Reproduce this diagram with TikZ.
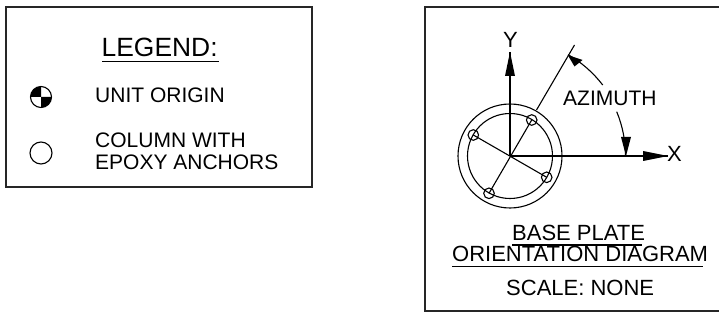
\documentclass[tikz,border=0pt]{standalone}
\usepackage{fontspec}
\setmainfont{Liberation Sans}
\begin{document}
\begin{tikzpicture}[x=1pt,y=-1pt,
  ln/.style={draw=black,line width=1.1pt},
  frame/.style={draw=black!85,line width=1.3pt},
  lbl/.style={inner sep=0pt,font=\fontsize{21}{21}\selectfont,anchor=base west},
  lblb/.style={inner sep=0pt,font=\fontsize{22}{22}\selectfont,anchor=base west}]
\useasboundingbox (0,0) rectangle (719,320);
\fill[white] (0,0) rectangle (719,320);
\draw[frame] (6,7) rectangle (312,187);
\draw[frame] (719,7) -- (425,7) -- (425,311) -- (719,311);
% legend
\node[lbl,font=\fontsize{26.4}{26.4}\selectfont] (legend) at (101.5,56.7) {LEGEND:};
\draw[ln] (102,61.7) -- (218.5,61.7);
\coordinate (sym1) at (41,97);
\draw[ln] (sym1) circle (10.5);
\fill (sym1) -- (30.5,97) arc (180:270:10.5) -- cycle;
\fill (sym1) -- (51.5,97) arc (0:90:10.5) -- cycle;
\node[lbl] (origin) at (95,103) {UNIT ORIGIN};
\coordinate (sym2) at (41,153);
\draw[ln] (sym2) circle (11);
\node[lbl] (col) at (95,148) {COLUMN WITH};
\node[lbl] (epoxy) at (95,170) {EPOXY ANCHORS};
% diagram
\coordinate (c) at (510,156);
\coordinate (ytip) at (510,52);
\coordinate (xend) at (668,156);
\coordinate (b1) at (531.7,120);
\coordinate (b2) at (473.3,135);
\coordinate (b3) at (546.7,177.3);
\coordinate (b4) at (489,193.3);
\draw[ln] (c) circle (52);
\draw[ln] (c) circle (42.5);
\foreach \b in {b1,b2,b3,b4} \draw[ln] (\b) circle (5.3);
\draw[ln] (b1) -- (b4);
\draw[ln] (b2) -- (b3);
\draw[ln] (c) -- (ytip);
\draw[ln] (c) -- (xend);
\fill[black] (ytip) -- (515,76) -- (505,76) -- cycle;
\fill[black] (xend) -- (643,151) -- (643,161) -- cycle;
\coordinate (azs) at (536.5,110);
\coordinate (aze) at (574.5,45);
\draw[ln] (azs) -- (aze);
\draw[ln] (602.7,85) arc (-37.4:-60.2:116.5);
\draw[ln] (616.7,111.7) arc (-22.5:0:115.5);
\fill[black] (567.7,55) -- (582.5,60) -- (574.5,66.5) -- cycle;
\fill[black] (626,156) -- (621,137) -- (631,137) -- cycle;
\node[lbl] (az) at (563,105.7) {AZIMUTH};
\node[lblb] (y) at (503,47.3) {Y};
\node[lblb] (x) at (667,161.7) {X};
\node[lblb] (base) at (512,240.7) {BASE PLATE};
\draw[ln] (512,245) -- (642,245);
\node[lblb] (orient) at (452,261.7) {ORIENTATION DIAGRAM};
\draw[ln] (452,266.7) -- (703,266.7);
\node[lblb] (scale) at (506,295) {SCALE: NONE};
\end{tikzpicture}
\end{document}
